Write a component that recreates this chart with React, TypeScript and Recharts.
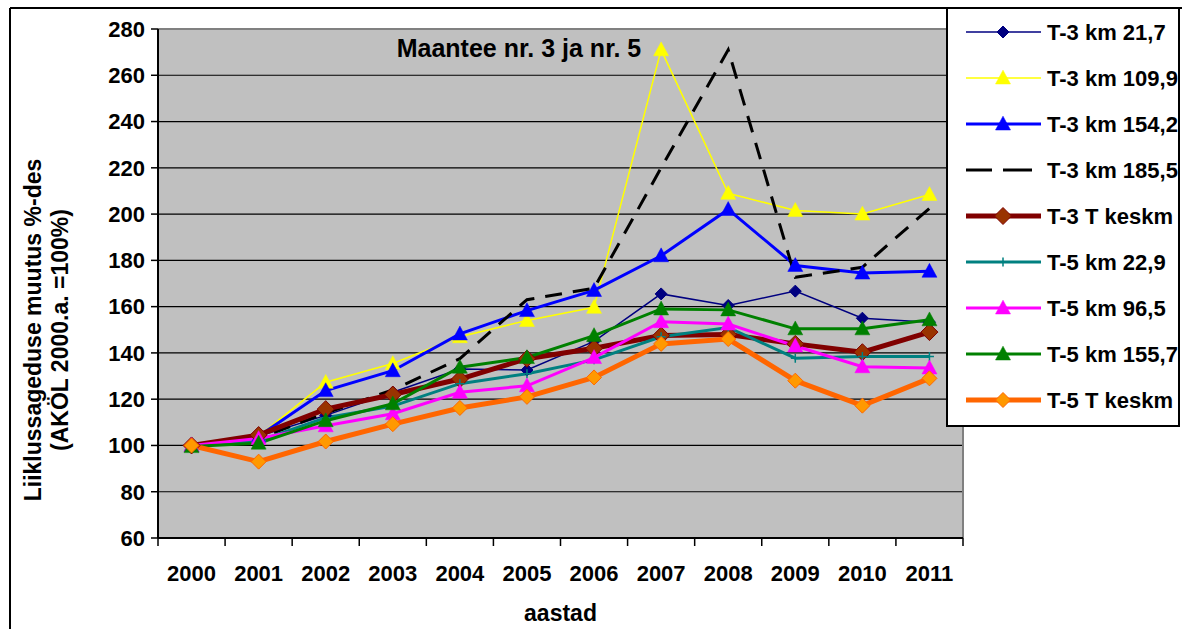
import { LineChart, Line, XAxis, YAxis, CartesianGrid, Legend, Label } from 'recharts';

const years = ['2000', '2001', '2002', '2003', '2004', '2005', '2006', '2007', '2008', '2009', '2010', '2011'];
const yTicks = [60, 80, 100, 120, 140, 160, 180, 200, 220, 240, 260, 280];

const t3Km217 = [100, 104, 113, 123, 133, 132.6, 145, 165.5, 160.5, 166.7, 155, 153.3];
const t3Km1099 = [100, 104, 127.3, 135.4, 147, 154, 159.7, 271, 209, 201.6, 200, 208.5];
const t3Km1542 = [100, 104, 123.7, 132.3, 148.2, 158.3, 167, 182, 202, 177.8, 174.5, 175.3];
const t3Km1855 = [100, 103, 114, 124, 137.5, 163, 168, 220, 271, 172.7, 177, 202.5];
const t3Keskm = [100, 104.5, 115.7, 122, 128.7, 137.5, 142, 147.5, 148, 143.9, 140.3, 149];
const t5Km229 = [100, 102, 112, 117, 126.7, 131, 137, 147, 151, 137.7, 138.4, 138.4];
const t5Km965 = [100, 103, 108.5, 113.7, 123, 125.8, 138, 153.5, 152.5, 143, 134, 133.5];
const t5Km1557 = [99.5, 101, 110.7, 118, 133.8, 138, 147.5, 159, 158.6, 150.4, 150.4, 154.3];
const t5Keskm = [100, 93, 101.7, 109.2, 116.2, 121, 129.4, 143.9, 146, 128, 117.2, 129];

type MarkerKind = 'diamond' | 'triangle' | 'plus' | 'none';

const series = [
  { key: 't3Km217', name: 'T-3 km 21,7', values: t3Km217, stroke: '#000080', width: 1.5, marker: 'diamond' as MarkerKind, fill: '#000080', size: 6 },
  { key: 't3Km1099', name: 'T-3 km 109,9', values: t3Km1099, stroke: '#FFFF00', width: 1.5, marker: 'triangle' as MarkerKind, fill: '#FFFF00', size: 7.5 },
  { key: 't3Km1542', name: 'T-3 km 154,2', values: t3Km1542, stroke: '#0000FF', width: 3, marker: 'triangle' as MarkerKind, fill: '#0000FF', size: 7.5 },
  { key: 't3Km1855', name: 'T-3 km 185,5', values: t3Km1855, stroke: '#000000', width: 3, marker: 'none' as MarkerKind, fill: 'none', size: 0, dash: '17 11' },
  { key: 't3Keskm', name: 'T-3 T keskm', values: t3Keskm, stroke: '#800000', width: 5, marker: 'diamond' as MarkerKind, fill: '#993300', size: 8.5 },
  { key: 't5Km229', name: 'T-5 km 22,9', values: t5Km229, stroke: '#008080', width: 3, marker: 'plus' as MarkerKind, fill: '#008080', size: 4.5 },
  { key: 't5Km965', name: 'T-5 km 96,5', values: t5Km965, stroke: '#FF00FF', width: 3, marker: 'triangle' as MarkerKind, fill: '#FF00FF', size: 7.5 },
  { key: 't5Km1557', name: 'T-5 km 155,7', values: t5Km1557, stroke: '#008000', width: 3, marker: 'triangle' as MarkerKind, fill: '#008000', size: 7.5 },
  { key: 't5Keskm', name: 'T-5 T keskm', values: t5Keskm, stroke: '#FF6600', width: 5, marker: 'diamond' as MarkerKind, fill: '#FF9900', size: 7.5 },
];

const data = years.map((year, i) => {
  const row: Record<string, string | number> = { year };
  series.forEach((s) => {
    row[s.key] = s.values[i];
  });
  return row;
});

const W = 1182;
const H = 629;
const PLOT_LEFT = 158;
const PLOT_RIGHT = 963;
const PLOT_TOP = 29;
const PLOT_BOTTOM = 538;
const BAND = (PLOT_RIGHT - PLOT_LEFT) / years.length;
const HALF_BAND = BAND / 2;
const FONT = '"Liberation Sans", Arial, sans-serif';

// category boundary tick marks under the x axis (Excel style)
const boundaryTicks = Array.from({ length: years.length + 1 }, (_, i) => `M${PLOT_LEFT + i * BAND},${PLOT_BOTTOM}v8`).join('');

const MarkerShape = ({ kind, cx, cy, size, fill, stroke }: { kind: MarkerKind; cx: number; cy: number; size: number; fill: string; stroke: string }) => {
  if (kind === 'diamond') {
    return <path d={`M${cx},${cy - size}L${cx + size},${cy}L${cx},${cy + size}L${cx - size},${cy}Z`} fill={fill} stroke={stroke} strokeWidth={1} />;
  }
  if (kind === 'triangle') {
    return <path d={`M${cx},${cy - size * 1.05}L${cx + size},${cy + size * 0.8}L${cx - size},${cy + size * 0.8}Z`} fill={fill} stroke={fill} strokeWidth={0.5} />;
  }
  if (kind === 'plus') {
    return <path d={`M${cx - size},${cy}H${cx + size}M${cx},${cy - size}V${cy + size}`} stroke={stroke} strokeWidth={1.5} fill="none" />;
  }
  return <g />;
};

const makeDot = (s: (typeof series)[number]) => (props: any) => {
  const { cx, cy, index } = props;
  if (cx == null || cy == null) return <g key={`${s.key}-${index}`} />;
  return (
    <g key={`${s.key}-${index}`}>
      <MarkerShape kind={s.marker} cx={cx} cy={cy} size={s.size} fill={s.fill} stroke={s.marker === 'diamond' ? s.stroke : s.fill} />
    </g>
  );
};

const YearTick = (props: any) => {
  const { x, payload } = props;
  return (
    <text x={x} y={581} textAnchor="middle" fontFamily={FONT} fontWeight="bold" fontSize={22} fill="#000">
      {payload.value}
    </text>
  );
};

const YTitle = () => (
  <text transform="translate(48, 330) rotate(-90)" textAnchor="middle" fontFamily={FONT} fontWeight="bold" fontSize={23} fill="#000">
    <tspan x={0} y={-7}>Liiklussageduse muutus %-des</tspan>
    <tspan x={0} y={20}>(AKÖL 2000.a. =100%)</tspan>
  </text>
);

const XTitle = () => (
  <text x={(PLOT_LEFT + PLOT_RIGHT) / 2} y={621} textAnchor="middle" fontFamily={FONT} fontWeight="bold" fontSize={23} fill="#000">
    aastad
  </text>
);

const LegendBox = () => (
  <div style={{ width: 234, height: 420, background: '#fff', border: '2px solid #000', boxSizing: 'border-box' }}>
    <svg width={230} height={416} style={{ display: 'block' }}>
      {series.map((s, i) => {
        const y = 23 + i * 46;
        return (
          <g key={s.key}>
            {s.dash ? (
              <>
                <line x1={18} y1={y} x2={44} y2={y} stroke={s.stroke} strokeWidth={s.width} />
                <line x1={55} y1={y} x2={84} y2={y} stroke={s.stroke} strokeWidth={s.width} />
              </>
            ) : (
              <line x1={18} y1={y} x2={93} y2={y} stroke={s.stroke} strokeWidth={s.width} />
            )}
            <MarkerShape kind={s.marker} cx={55} cy={y} size={s.size} fill={s.fill} stroke={s.marker === 'diamond' ? s.stroke : s.fill} />
            <text x={99} y={y + 8} fontFamily={FONT} fontWeight="bold" fontSize={22} fill="#000">
              {s.name}
            </text>
          </g>
        );
      })}
    </svg>
  </div>
);

export default function App() {
  return (
    <div style={{ position: 'absolute', left: 0, top: 0, width: W, height: H, background: '#fff' }}>
      <LineChart width={W} height={H} data={data} margin={{ top: PLOT_TOP, right: W - PLOT_RIGHT, bottom: 0, left: 0 }}>
        <CartesianGrid horizontal={true} vertical={false} stroke="#000" strokeWidth={1.2} fill="#C0C0C0" fillOpacity={1} />
        <XAxis
          dataKey="year"
          height={H - PLOT_BOTTOM}
          padding={{ left: HALF_BAND, right: HALF_BAND }}
          axisLine={{ stroke: '#000', strokeWidth: 2 }}
          tickLine={false}
          tick={<YearTick />}
          interval={0}
        >
          <Label content={<XTitle />} />
        </XAxis>
        <YAxis
          width={PLOT_LEFT}
          domain={[60, 280]}
          ticks={yTicks}
          interval={0}
          axisLine={{ stroke: '#000', strokeWidth: 2 }}
          tickLine={{ stroke: '#000', strokeWidth: 1.5 }}
          tickSize={7}
          tickMargin={6}
          tick={{ fontFamily: FONT, fontWeight: 'bold', fontSize: 22, fill: '#000' }}
        >
          <Label content={<YTitle />} />
        </YAxis>
        <path d={boundaryTicks} stroke="#000" strokeWidth={1.5} fill="none" />
        <line x1={PLOT_LEFT} y1={PLOT_TOP} x2={PLOT_RIGHT} y2={PLOT_TOP} stroke="#808080" strokeWidth={2} />
        <line x1={PLOT_RIGHT} y1={PLOT_TOP} x2={PLOT_RIGHT} y2={PLOT_BOTTOM} stroke="#808080" strokeWidth={2} />
        <line x1={10} y1={8} x2={W} y2={8} stroke="#000" strokeWidth={2} />
        <line x1={10} y1={8} x2={10} y2={H} stroke="#000" strokeWidth={2} />
        <text x={519} y={57} textAnchor="middle" fontFamily={FONT} fontWeight="bold" fontSize={25} fill="#000">
          Maantee nr. 3 ja nr. 5
        </text>
        {series.map((s) => (
          <Line
            key={s.key}
            dataKey={s.key}
            name={s.name}
            type="linear"
            stroke={s.stroke}
            strokeWidth={s.width}
            strokeDasharray={s.dash}
            dot={s.marker === 'none' ? false : makeDot(s)}
            activeDot={false}
            isAnimationActive={false}
          />
        ))}
        <Legend
          layout="vertical"
          align="center"
          verticalAlign="middle"
          content={<LegendBox />}
          wrapperStyle={{ left: 946, top: 7, width: 234, height: 420 }}
        />
      </LineChart>
    </div>
  );
}
